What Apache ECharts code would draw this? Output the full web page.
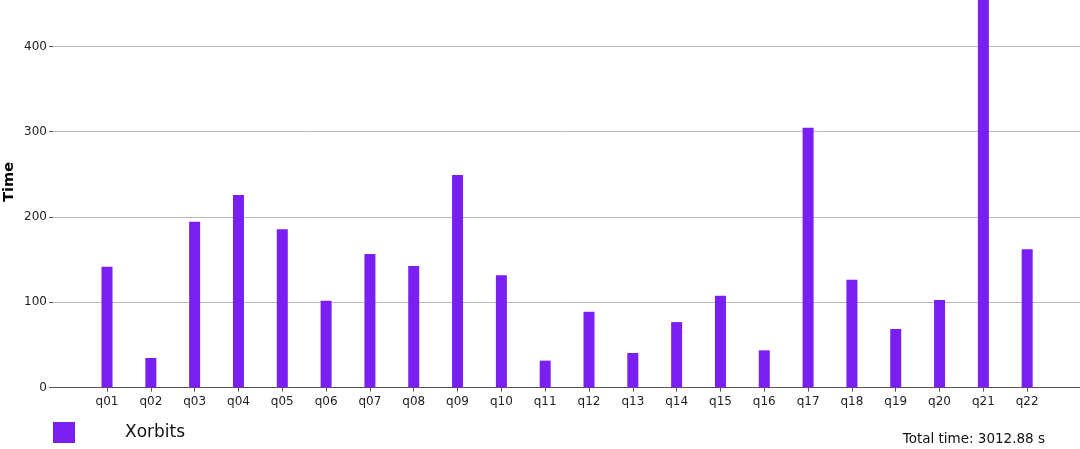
<!DOCTYPE html>
<html>
<head>
<meta charset="utf-8">
<script src="https://cdn.jsdelivr.net/npm/echarts@6/dist/echarts.min.js"></script>
<style>
html,body{margin:0;padding:0;background:#fff;}
#chart{width:1080px;height:449px;}
</style>
</head>
<body>
<div id="chart"></div>
<script>
var categories = ['q01','q02','q03','q04','q05','q06','q07','q08','q09','q10','q11','q12','q13','q14','q15','q16','q17','q18','q19','q20','q21','q22'];
var xorbitsTimes = [141.8, 34.7, 194.5, 225.7, 185.6, 101.8, 156.7, 142.7, 249.1, 131.8, 31.6, 88.9, 40.6, 76.8, 107.7, 43.7, 304.7, 126.5, 68.7, 102.7, 480, 162.1];
var yTicks = [0, 100, 200, 300, 400];
var yVisibleMax = 454.4;
var seriesName = 'Xorbits';
var totalTimeText = 'Total time: 3012.88 s';
var yAxisTitle = 'Time';

var FONT = 'DejaVu Sans';
var chart = echarts.init(document.getElementById('chart'), null, {renderer: 'canvas'});
var option = {
  animation: false,
  backgroundColor: '#ffffff',
  grid: [
    {left: 53, right: 0, top: 0, bottom: 61.4, containLabel: false},
    {left: 85.1, right: 30.9, top: 0, bottom: 61.4, containLabel: false}
  ],
  legend: {
    data: [seriesName],
    left: 53, top: 422, padding: 0,
    itemWidth: 22, itemHeight: 21,
    icon: 'rect',
    textStyle: {fontFamily: FONT, fontSize: 17, color: '#111', padding: [8, 0, 0, 45]}
  },
  xAxis: [
    {
      gridIndex: 0, type: 'value', min: 0, max: 1,
      axisLine: {show: true, onZero: false, lineStyle: {color: '#555', width: 1.2}},
      axisTick: {show: false}, axisLabel: {show: false}, splitLine: {show: false}
    },
    {
      gridIndex: 1, type: 'category', data: categories, boundaryGap: true,
      axisLine: {show: false},
      axisTick: {show: true, alignWithLabel: true, length: 4, lineStyle: {color: '#555'}},
      axisLabel: {show: true, interval: 0, margin: 8, fontFamily: FONT, fontSize: 12, color: '#222'},
      splitLine: {show: false}
    }
  ],
  yAxis: [
    {
      gridIndex: 0, type: 'value', min: yTicks[0], max: yVisibleMax, interval: yTicks[1] - yTicks[0],
      axisLine: {show: false},
      axisTick: {show: true, length: 4, lineStyle: {color: '#555'}},
      axisLabel: {show: true, margin: 6, fontFamily: FONT, fontSize: 12, color: '#222', showMaxLabel: false},
      splitLine: {show: true, showMaxLine: false, lineStyle: {color: '#b8b8b8', width: 1}}
    },
    {
      gridIndex: 1, type: 'value', min: yTicks[0], max: yVisibleMax,
      axisLine: {show: false}, axisTick: {show: false}, axisLabel: {show: false}, splitLine: {show: false}
    }
  ],
  series: [
    {
      name: seriesName, type: 'bar', xAxisIndex: 1, yAxisIndex: 1,
      data: xorbitsTimes, barWidth: 11,
      itemStyle: {color: '#7a1ff2'},
      emphasis: {disabled: true}
    }
  ],
  graphic: [
    {
      type: 'text', left: 2, top: 162,
      rotation: Math.PI / 2,
      originX: 0, originY: 0,
      style: {text: yAxisTitle, fontFamily: FONT, fontSize: 14.5, fontWeight: 'bold', fill: '#000'}
    },
    {
      type: 'text', right: 35, top: 432,
      style: {text: totalTimeText, fontFamily: FONT, fontSize: 13.5, fill: '#111'}
    }
  ]
};
chart.setOption(option);
</script>
</body>
</html>
